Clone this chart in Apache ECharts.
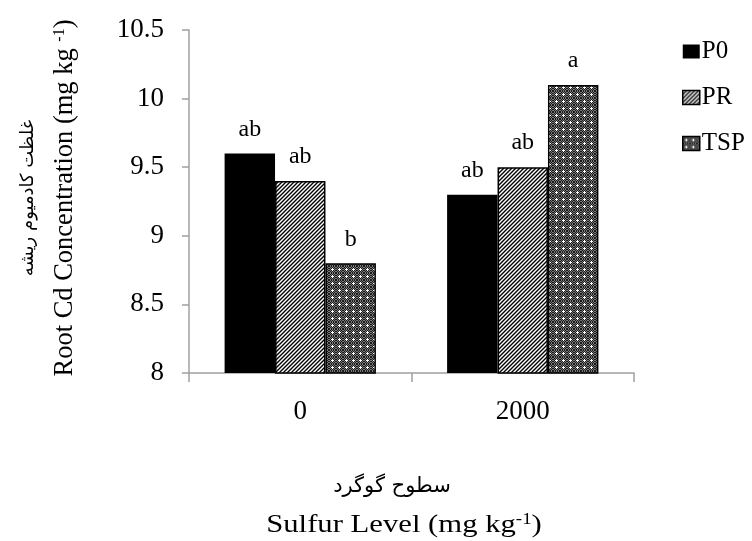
<!DOCTYPE html>
<html>
<head>
<meta charset="utf-8">
<script src="https://cdn.jsdelivr.net/npm/echarts@6/dist/echarts.min.js"></script>
<style>
  html, body { margin: 0; padding: 0; background: #fff; }
  #chart { width: 752px; height: 541px; }
</style>
</head>
<body>
<div id="chart"></div>
<script>
// Sulfur levels on the category axis
const categories = ['0', '2000'];
// Phosphorus source series
const seriesNames = ['P0', 'PR', 'TSP'];
// Root Cd concentration (mg kg-1) per series, one value per sulfur level
const valuesP0 = [9.6, 9.3];
const valuesPR = [9.4, 9.5];
const valuesTSP = [8.8, 10.1];
// Mean-separation letters written above each bar
const lettersP0 = ['ab', 'ab'];
const lettersPR = ['ab', 'ab'];
const lettersTSP = ['b', 'a'];
// Y axis range and step
const yMin = 8;
const yMax = 10.5;
const yStep = 0.5;

const serif = '"Liberation Serif", "Times New Roman", serif';
const persian = '"DejaVu Sans", sans-serif';

// Diagonal hatch fill
function hatchPattern() {
  const c = document.createElement('canvas');
  c.width = 4; c.height = 4;
  const g = c.getContext('2d');
  g.fillStyle = '#fff';
  g.fillRect(0, 0, 4, 4);
  g.strokeStyle = '#000';
  g.lineWidth = 1.4;
  g.beginPath();
  g.moveTo(-1, 5); g.lineTo(5, -1);
  g.moveTo(-1, 1); g.lineTo(1, -1);
  g.moveTo(3, 5); g.lineTo(5, 3);
  g.stroke();
  return c;
}

// Dark dotted fill with small white crosses
function dotPattern() {
  const n = 7;
  const c = document.createElement('canvas');
  c.width = n; c.height = n;
  const g = c.getContext('2d');
  for (let y = 0; y < n; y++) {
    for (let x = 0; x < n; x++) {
      g.fillStyle = ((x + y) % 2 === 0) ? '#1a1a1a' : '#7a7a7a';
      g.fillRect(x, y, 1, 1);
    }
  }
  g.fillStyle = '#fff';
  g.fillRect(3, 2, 1, 3);
  g.fillRect(2, 3, 3, 1);
  return c;
}

const fills = [
  '#000',
  { image: hatchPattern(), repeat: 'repeat' },
  { image: dotPattern(), repeat: 'repeat' }
];
const valueSets = [valuesP0, valuesPR, valuesTSP];
const letterSets = [lettersP0, lettersPR, lettersTSP];

const chart = echarts.init(document.getElementById('chart'));

const series = seriesNames.map((name, i) => ({
  name: name,
  type: 'bar',
  data: valueSets[i],
  barGap: '0%',
  barCategoryGap: '32%',
  itemStyle: {
    color: fills[i],
    borderColor: '#000',
    borderWidth: i === 0 ? 0 : 1.5
  },
  label: {
    show: true,
    position: 'top',
    distance: 12,
    formatter: p => letterSets[i][p.dataIndex],
    fontFamily: serif,
    fontSize: 24,
    color: '#000'
  }
}));

chart.setOption({
  animation: false,
  backgroundColor: '#fff',
  grid: { left: 189, right: 118, top: 30, bottom: 168 },
  legend: {
    data: seriesNames.map((n, i) => ({
      name: n,
      itemStyle: { color: fills[i], borderColor: '#000', borderWidth: i === 0 ? 0 : 1.5 }
    })),
    orient: 'vertical',
    left: 677,
    top: 34,
    itemWidth: 17,
    itemHeight: 14,
    itemGap: 21,
    icon: 'rect',
    textStyle: { fontFamily: serif, fontSize: 25, color: '#000', padding: [0, 0, 0, -3] }
  },
  xAxis: {
    type: 'category',
    data: categories,
    axisLine: { lineStyle: { color: '#a0a0a0', width: 1.5 } },
    axisTick: { show: true, length: 9, alignWithLabel: false, lineStyle: { color: '#a0a0a0', width: 1.5 } },
    axisLabel: { fontFamily: serif, fontSize: 27, color: '#000', margin: 25 }
  },
  yAxis: {
    type: 'value',
    min: yMin,
    max: yMax,
    interval: yStep,
    splitLine: { show: false },
    axisLine: { show: true, lineStyle: { color: '#a0a0a0', width: 1.5 } },
    axisTick: { show: true, length: 7, lineStyle: { color: '#a0a0a0', width: 1.5 } },
    axisLabel: { fontFamily: serif, fontSize: 27, color: '#000', margin: 25 }
  },
  graphic: [
    {
      type: 'text',
      x: 65, y: 198,
      rotation: Math.PI / 2,
      style: {
        text: '{t|Root Cd Concentration (mg kg }{s|-1}{t|)}',
        align: 'center',
        verticalAlign: 'middle',
        rich: {
          t: { fontFamily: serif, fontSize: 26.5, color: '#000' },
          s: { fontFamily: serif, fontSize: 16, color: '#000', verticalAlign: 'top', padding: [0, 0, 11, 0] }
        }
      }
    },
    {
      type: 'text',
      x: 28, y: 198,
      rotation: Math.PI / 2,
      style: {
        text: 'غلظت کادمیوم ریشه',
        fontFamily: persian,
        fontSize: 18,
        fill: '#000',
        align: 'center',
        verticalAlign: 'middle'
      }
    },
    {
      type: 'text',
      x: 392, y: 487,
      style: {
        text: 'سطوح گوگرد',
        fontFamily: persian,
        fontSize: 21,
        fill: '#000',
        align: 'center',
        verticalAlign: 'middle'
      }
    },
    {
      type: 'text',
      x: 404, y: 525,
      scaleX: 1.18,
      style: {
        text: '{t|Sulfur Level (mg kg}{s|-1}{t|)}',
        align: 'center',
        verticalAlign: 'middle',
        rich: {
          t: { fontFamily: serif, fontSize: 26, color: '#000' },
          s: { fontFamily: serif, fontSize: 16, color: '#000', verticalAlign: 'top', padding: [0, 0, 10, 0] }
        }
      }
    }
  ],
  series: series
});
</script>
</body>
</html>
